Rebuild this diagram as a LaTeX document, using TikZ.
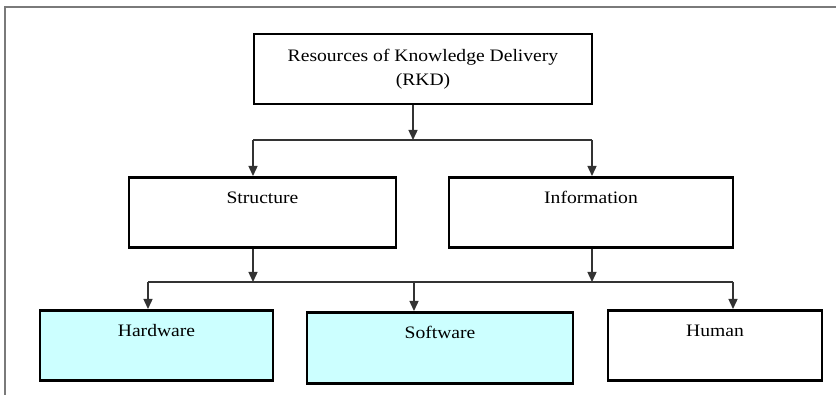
\documentclass[tikz,border=0pt]{standalone}
\usepackage{fontspec}
\setmainfont{Liberation Serif}[FakeStretch=1.12]
\usetikzlibrary{arrows.meta}
\definecolor{boxcyan}{HTML}{CCFFFF}
\definecolor{linkgray}{HTML}{333333}
\definecolor{framegray}{HTML}{7A7A7A}
\begin{document}
\begin{tikzpicture}[x=1pt,y=-1pt,
  box/.style={draw,line width=2.6pt,anchor=north,inner xsep=0pt,inner ysep=0pt,
    text height=26pt,text depth=44pt,font=\fontsize{17.5}{21}\selectfont},
  hued/.style={fill=boxcyan},
  link/.style={draw=linkgray,line width=1.4pt},
  conn/.style={link,-{Triangle[length=10pt,width=9pt]}}]
\path[use as bounding box] (0,0) rectangle (836,395);
\draw[framegray,line width=2pt] (836,7) -- (5,7) -- (5,395);
\node[draw,line width=2.6pt,minimum width=338,minimum height=70,align=center,
  font=\fontsize{17.5}{24}\selectfont] (rkd) at (423,69) {Resources of Knowledge Delivery\\(RKD)};
\node[box,minimum width=267] (struct) at (262.5,176) {Structure};
\node[box,minimum width=284] (info) at (591,176) {Information};
\node[box,hued,minimum width=233] (hard) at (156.5,309) {Hardware};
\node[box,hued,minimum width=266,text depth=45pt] (soft) at (440,311) {Software};
\node[box,minimum width=214] (human) at (715,309) {Human};
\coordinate (topmid) at (413,140);
\coordinate (topleft) at (253,140);
\coordinate (topright) at (592,140);
\coordinate (lowleft) at (148,282);
\coordinate (lowmid) at (414,282);
\coordinate (lowright) at (733,282);
\draw[conn] (rkd.south -| topmid) -- (topmid);
\draw[link] (topleft) -- (topright);
\draw[conn] (topleft) -- (topleft |- struct.north);
\draw[conn] (topright) -- (topright |- info.north);
\draw[conn] (struct.south -| topleft) -- (topleft |- lowmid);
\draw[conn] (info.south -| topright) -- (topright |- lowmid);
\draw[link] (lowleft) -- (lowright);
\draw[conn] (lowleft) -- (lowleft |- hard.north);
\draw[conn] (lowmid) -- (lowmid |- soft.north);
\draw[conn] (lowright) -- (lowright |- human.north);
\end{tikzpicture}
\end{document}
